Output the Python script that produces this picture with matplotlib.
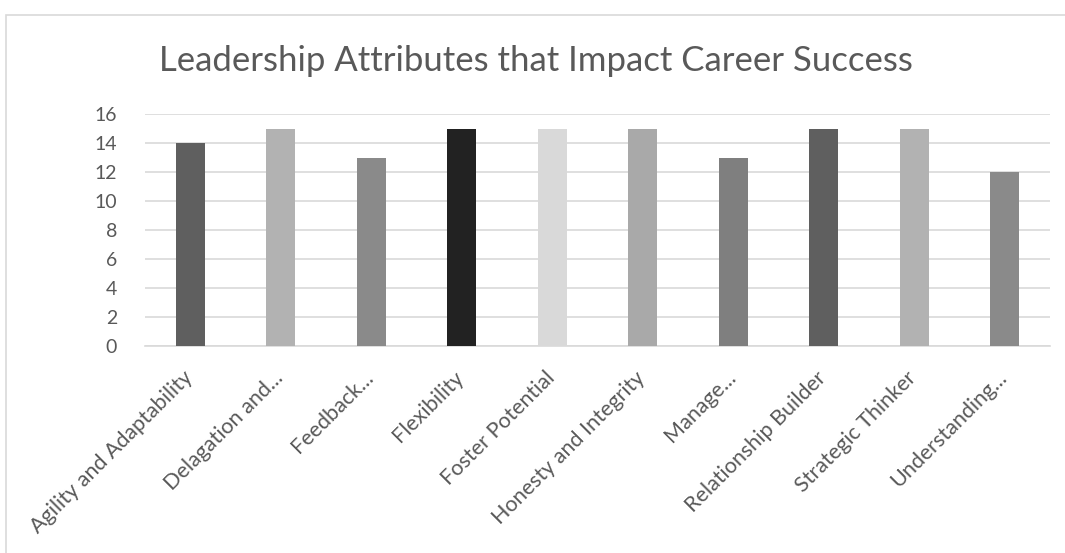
import matplotlib.pyplot as plt
import matplotlib.transforms as mtransforms
from matplotlib.patches import Rectangle

# data
categories = ["Agility and Adaptability", "Delagation and...", "Feedback...", "Flexibility",
              "Foster Potential", "Honesty and Integrity", "Manage...", "Relationship Builder",
              "Strategic Thinker", "Understanding..."]
values = [14, 15, 13, 15, 15, 15, 13, 15, 15, 12]
bar_colors = ["#5f5f5f", "#b2b2b2", "#8a8a8a", "#222222", "#d9d9d9",
              "#a9a9a9", "#7f7f7f", "#5f5f5f", "#b2b2b2", "#8a8a8a"]
yticks = [0, 2, 4, 6, 8, 10, 12, 14, 16]

plt.rcParams['font.family'] = ['Lato', 'DejaVu Sans']

fig = plt.figure(figsize=(10.65, 5.53), dpi=100)
W, H = 1065, 553

# chart frame
fig.patches.append(Rectangle((6 / W, -0.1), 1.2, 1 - 15 / H + 0.1, transform=fig.transFigure,
                             fill=False, edgecolor="#d9d9d9", linewidth=1.2))

ax = fig.add_axes([145 / W, 1 - 346 / H, (1050 - 145) / W, (346 - 114) / H])
x = range(len(categories))
ax.bar(x, values, width=0.32, color=bar_colors, zorder=3)
ax.set_xlim(-0.5, len(categories) - 0.5)
ax.set_ylim(0, 16)
ax.set_yticks(yticks)
ax.yaxis.grid(True, color="#d9d9d9", linewidth=1.2, zorder=0)
for s in ["top", "right", "left"]:
    ax.spines[s].set_visible(False)
ax.spines["bottom"].set_color("#d9d9d9")
ax.spines["bottom"].set_linewidth(1.2)
ax.tick_params(axis="both", length=0, colors="#595959")
ax.tick_params(axis="y", pad=20, labelsize=14)
ax.set_xticks(list(x))
ax.set_xticklabels(categories, rotation=45, ha="right", va="top", rotation_mode="anchor")
ax.tick_params(axis="x", pad=14, labelsize=15.5)
shift = mtransforms.ScaledTranslation(-8 / 100, -2 / 100, fig.dpi_scale_trans)
for lbl in ax.get_xticklabels():
    lbl.set_transform(lbl.get_transform() + shift)

fig.text(536 / W, 1 - 61 / H, "Leadership Attributes that Impact Career Success",
         ha="center", va="center", fontsize=25, color="#595959")

fig.savefig("out.png", dpi=100)
